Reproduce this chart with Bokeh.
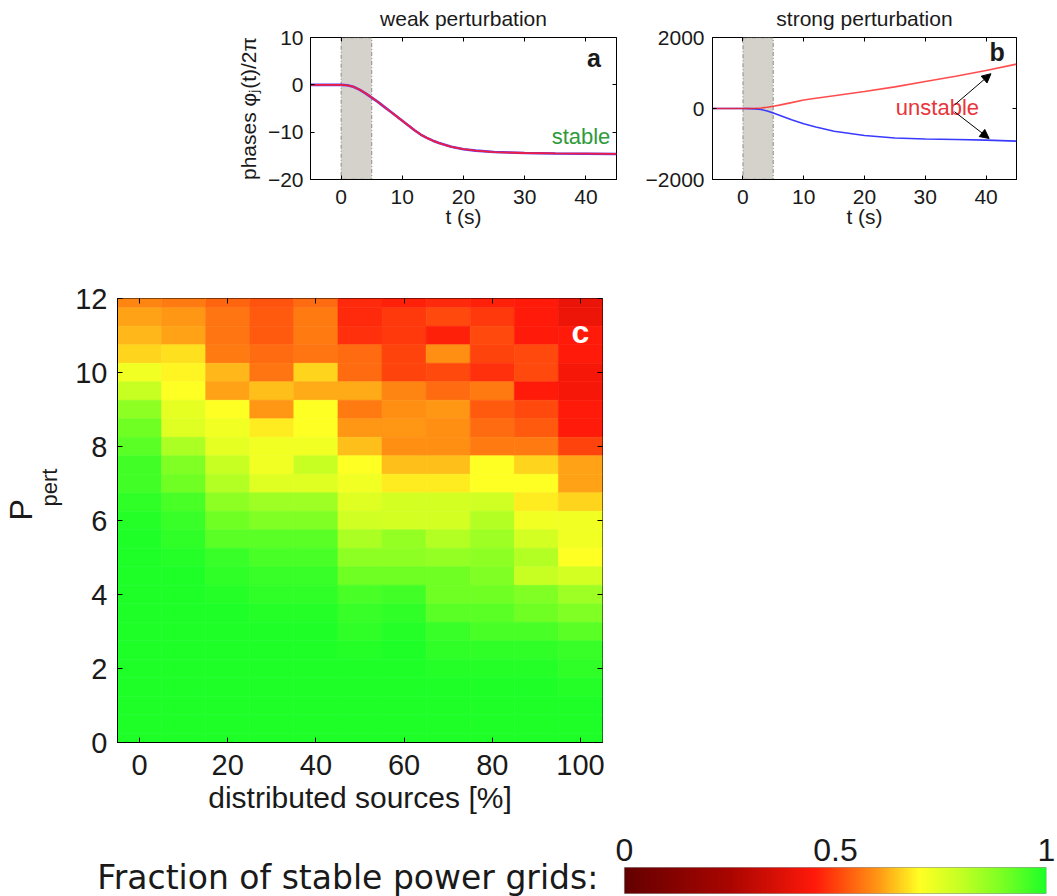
import numpy as np
from bokeh.plotting import figure
from bokeh.models import (BoxAnnotation, Label, Arrow, NormalHead, LinearAxis,
                          ColumnDataSource, LinearColorMapper, Title)
from bokeh.layouts import column, row
from bokeh.transform import linear_cmap
from bokeh.embed import file_html
from bokeh.resources import INLINE

FONT = "Liberation Sans"
INK = "#1a1a1a"

# ---------------- data: panel a (weak perturbation) ----------------
t_weak = [-5, 0, 1, 2, 3, 4, 5, 6, 7, 8, 9, 10, 11, 12, 13, 14, 15, 16, 18, 20,
          22, 25, 30, 35, 40, 45]
phase_weak = [0, 0, -0.1, -0.4, -1.0, -1.8, -2.7, -3.6, -4.6, -5.6, -6.6, -7.6,
              -8.6, -9.6, -10.5, -11.2, -11.8, -12.3, -13.1, -13.6, -13.9, -14.2,
              -14.4, -14.5, -14.55, -14.6]

# ---------------- data: panel b (strong perturbation) ----------------
t_strong = [-5, 0, 1, 2, 3, 4, 5, 6, 8, 10, 12, 15, 20, 25, 30, 35, 40, 45]
phase_strong_up = [0, 0, 2, 6, 15, 35, 65, 95, 165, 240, 290, 360, 480, 610, 760,
                   910, 1070, 1250]
phase_strong_down = [0, 0, -3, -10, -30, -70, -130, -190, -320, -430, -520, -640,
                     -760, -830, -860, -875, -890, -920]

pert_start, pert_end = 0, 5

# ---------------- data: panel c (fraction of stable grids) ----------------
sources = [0, 10, 20, 30, 40, 50, 60, 70, 80, 90, 100]
p_pert = [12.0, 11.5, 11.0, 10.5, 10.0, 9.5, 9.0, 8.5, 8.0, 7.5, 7.0, 6.5, 6.0,
          5.5, 5.0, 4.5, 4.0, 3.5, 3.0, 2.5, 2.0, 1.5, 1.0, 0.5, 0.0]
stable_0 = [0.58, 0.61, 0.63, 0.66, 0.72, 0.79, 0.87, 0.91, 0.93, 0.96, 0.96, 0.98,
            0.99, 1, 1, 1, 1, 1, 1, 1, 1, 1, 1, 1, 1]
stable_10 = [0.57, 0.60, 0.61, 0.67, 0.69, 0.70, 0.74, 0.75, 0.83, 0.89, 0.91, 0.95,
             0.97, 0.98, 0.99, 1, 1, 1, 1, 1, 1, 1, 1, 1, 1]
stable_20 = [0.54, 0.56, 0.56, 0.57, 0.63, 0.61, 0.70, 0.72, 0.74, 0.79, 0.82, 0.87,
             0.91, 0.93, 0.97, 0.98, 0.99, 1, 1, 1, 1, 1, 1, 1, 1]
stable_30 = [0.52, 0.53, 0.53, 0.55, 0.56, 0.64, 0.60, 0.68, 0.72, 0.72, 0.75, 0.85,
             0.89, 0.93, 0.95, 0.97, 0.98, 0.99, 1, 1, 1, 1, 1, 1, 1]
stable_40 = [0.55, 0.57, 0.57, 0.56, 0.66, 0.62, 0.70, 0.70, 0.72, 0.79, 0.75, 0.85,
             0.89, 0.93, 0.95, 0.97, 0.98, 0.99, 1, 1, 1, 1, 1, 1, 1]
stable_50 = [0.47, 0.47, 0.48, 0.55, 0.55, 0.62, 0.57, 0.60, 0.64, 0.70, 0.72, 0.75,
             0.78, 0.83, 0.87, 0.91, 0.95, 0.97, 0.98, 0.99, 1, 1, 1, 1, 1]
stable_60 = [0.46, 0.49, 0.49, 0.50, 0.50, 0.58, 0.59, 0.60, 0.59, 0.64, 0.68, 0.77,
             0.77, 0.86, 0.87, 0.91, 0.96, 0.98, 0.99, 1, 1, 1, 1, 1, 1]
stable_70 = [0.47, 0.51, 0.46, 0.59, 0.51, 0.55, 0.60, 0.59, 0.59, 0.64, 0.68, 0.77,
             0.77, 0.82, 0.86, 0.91, 0.91, 0.93, 0.97, 0.98, 0.99, 1, 1, 1, 1]
stable_80 = [0.46, 0.49, 0.51, 0.50, 0.48, 0.57, 0.53, 0.55, 0.57, 0.70, 0.70, 0.78,
             0.82, 0.85, 0.87, 0.89, 0.91, 0.93, 0.95, 0.98, 0.99, 1, 1, 1, 1]
stable_90 = [0.45, 0.45, 0.45, 0.51, 0.51, 0.45, 0.51, 0.53, 0.57, 0.66, 0.70, 0.68,
             0.72, 0.77, 0.82, 0.79, 0.89, 0.91, 0.95, 0.98, 0.99, 1, 1, 1, 1]
stable_100 = [0.40, 0.41, 0.45, 0.45, 0.43, 0.43, 0.45, 0.45, 0.50, 0.61, 0.61, 0.66,
              0.72, 0.72, 0.70, 0.77, 0.85, 0.89, 0.93, 0.97, 0.98, 0.99, 1, 1, 1]
stable_columns = [stable_0, stable_10, stable_20, stable_30, stable_40, stable_50,
                  stable_60, stable_70, stable_80, stable_90, stable_100]

colorbar_ticks = [0, 0.5, 1]

# ---------------- colour map (dark red -> red -> yellow -> green) ----------------
stops = [0.0, 0.25, 0.45, 0.50, 0.60, 0.70, 0.80, 0.90, 1.0]
stop_rgb = [(100, 0, 0), (170, 5, 0), (255, 25, 10), (255, 65, 12), (255, 150, 20),
            (255, 255, 35), (195, 255, 35), (120, 255, 35), (30, 255, 40)]
palette = []
for v in np.linspace(0, 1, 256):
    rgb = [int(round(np.interp(v, stops, [c[k] for c in stop_rgb]))) for k in range(3)]
    palette.append("#%02x%02x%02x" % tuple(rgb))


def style(p, fs, tick_in=4):
    p.outline_line_color = "black"
    p.outline_line_width = 1
    p.xgrid.visible = False
    p.ygrid.visible = False
    p.background_fill_color = "white"
    p.border_fill_color = "white"
    for ax in p.axis:
        ax.axis_line_color = "black"
        ax.major_tick_in = tick_in
        ax.major_tick_out = 0
        ax.minor_tick_line_color = None
        ax.major_tick_line_color = "black"
        ax.major_label_text_font = FONT
        ax.major_label_text_font_size = fs
        ax.major_label_text_color = INK
        ax.axis_label_text_font = FONT
        ax.axis_label_text_font_size = fs
        ax.axis_label_text_font_style = "normal"
        ax.axis_label_text_color = INK


def mirror_axes(p, xt, yt, tick_in=4):
    for loc, tk in (("above", xt), ("right", yt)):
        ax = LinearAxis(ticker=tk, major_label_text_font_size="1px",
                        major_label_text_color=None,
                        major_tick_in=tick_in, major_tick_out=0,
                        minor_tick_line_color=None, axis_line_color=None,
                        major_label_standoff=0)
        p.add_layout(ax, loc)


def add_title(p, text):
    p.add_layout(Title(text=text, align="center", vertical_align="top", standoff=12,
                       text_font=FONT, text_font_size="21px", text_font_style="normal",
                       text_color=INK), "above")


# ---------------- panel a ----------------
pa = figure(frame_width=306, frame_height=142, min_border_left=310, min_border_right=19,
            min_border_top=37, min_border_bottom=71, x_range=(-5, 45), y_range=(-20, 10),
            toolbar_location=None, output_backend="svg")
pa_x, pa_y = pa.below[0], pa.left[0]
pa.add_layout(BoxAnnotation(left=pert_start, right=pert_end, fill_color="#d5d2cb",
                            fill_alpha=1, line_color="black", line_dash="4 2 1 2",
                            line_width=1.3, level="underlay"))
pa.line(t_weak, phase_weak, line_color="#5a3cff", line_width=2.6)
pa.line(t_weak, phase_weak, line_color="#ff1a2a", line_width=1.8, line_alpha=0.9)
pa_x.ticker = [0, 10, 20, 30, 40]
pa_y.ticker = [-20, -10, 0, 10]
pa_y.major_label_overrides = {-20: "\u221220", -10: "\u221210"}
pa_x.axis_label = "t (s)"
pa_y.axis_label = "phases \u03c6\u2c7c(t)/2\u03c0"
style(pa, "21px")
pa_x.major_label_standoff = 10
pa_y.major_label_standoff = 7
pa_x.axis_label_standoff = -2
pa_y.axis_label_standoff = 5
mirror_axes(pa, [0, 10, 20, 30, 40], [-20, -10, 0, 10])
add_title(pa, "weak perturbation")
pa.add_layout(Label(x=39.2, y=-11, text="stable", text_align="center",
                    text_baseline="middle", text_font=FONT, text_font_size="22px",
                    text_color="#2f9a3c"))
pa.add_layout(Label(x=41.3, y=5.6, text="a", text_align="center", text_baseline="middle",
                    text_font=FONT, text_font_size="25px", text_font_style="bold",
                    text_color=INK))

# ---------------- panel b ----------------
pb = figure(frame_width=304, frame_height=142, min_border_left=77, min_border_right=33,
            min_border_top=37, min_border_bottom=71, x_range=(-5, 45),
            y_range=(-2000, 2000), toolbar_location=None, output_backend="svg")
pb_x, pb_y = pb.below[0], pb.left[0]
pb.add_layout(BoxAnnotation(left=pert_start, right=pert_end, fill_color="#d5d2cb",
                            fill_alpha=1, line_color="black", line_dash="4 2 1 2",
                            line_width=1.3, level="underlay"))
pb.line(t_strong, phase_strong_down, line_color="#3a3aff", line_width=1.6)
pb.line(t_strong, phase_strong_up, line_color="#ff2020", line_width=1.6, line_alpha=0.8)
pb_x.ticker = [0, 10, 20, 30, 40]
pb_y.ticker = [-2000, 0, 2000]
pb_y.major_label_overrides = {-2000: "\u22122000"}
pb_x.axis_label = "t (s)"
style(pb, "21px")
pb_x.major_label_standoff = 10
pb_y.major_label_standoff = 8
pb_x.axis_label_standoff = -2
mirror_axes(pb, [0, 10, 20, 30, 40], [-2000, 0, 2000])
add_title(pb, "strong perturbation")
pb.add_layout(Label(x=32, y=40, text="unstable", text_align="center",
                    text_baseline="middle", text_font=FONT, text_font_size="22px",
                    text_color="#e8343a"))
pb.add_layout(Arrow(end=NormalHead(size=9, fill_color="black", line_color="black"),
                    x_start=34.8, y_start=100, x_end=40.8, y_end=980,
                    line_color="black", line_width=1))
pb.add_layout(Arrow(end=NormalHead(size=9, fill_color="black", line_color="black"),
                    x_start=34.8, y_start=-90, x_end=40.5, y_end=-845,
                    line_color="black", line_width=1))
pb.add_layout(Label(x=41.8, y=1600, text="b", text_align="center", text_baseline="middle",
                    text_font=FONT, text_font_size="25px", text_font_style="bold",
                    text_color=INK))

# ---------------- panel c ----------------
xs, ys, vals = [], [], []
for src, col in zip(sources, stable_columns):
    for pp, v in zip(p_pert, col):
        xs.append(src)
        ys.append(pp)
        vals.append(v)
heat = ColumnDataSource(dict(x=xs, y=ys, frac=vals))

pc = figure(frame_width=485, frame_height=444, min_border_left=117, min_border_right=10,
            min_border_top=48, min_border_bottom=73, x_range=(-5, 105), y_range=(0, 12),
            toolbar_location=None, output_backend="svg")
pc_x, pc_y = pc.below[0], pc.left[0]
cmap = linear_cmap("frac", palette, 0, 1)
pc.rect(x="x", y="y", width=10, height=0.5, source=heat, fill_color=cmap,
        line_color=cmap, line_width=0.6)
pc_x.ticker = [0, 20, 40, 60, 80, 100]
pc_y.ticker = [0, 2, 4, 6, 8, 10, 12]
pc_x.axis_label = "distributed sources [%]"
style(pc, "29px", tick_in=5)
pc_x.major_label_standoff = 12
pc_y.major_label_standoff = 10
pc_x.axis_label_standoff = 3
pc_x.axis_label_text_font_size = "30px"
mirror_axes(pc, [0, 20, 40, 60, 80, 100], [0, 2, 4, 6, 8, 10, 12], tick_in=5)
pc.add_layout(Title(text="pert", align="left", offset=236, standoff=22,
                    text_font=FONT, text_font_size="22px", text_font_style="normal",
                    text_color=INK), "left")
pc.add_layout(Title(text="P", align="left", offset=222, standoff=-30,
                    text_font=FONT, text_font_size="32px", text_font_style="normal",
                    text_color=INK), "left")
pc.add_layout(Label(x=100, y=11.1, text="c", text_align="center", text_baseline="middle",
                    text_font=FONT, text_font_size="32px", text_font_style="bold",
                    text_color="white"))

# ---------------- colour bar ----------------
pcb = figure(frame_width=1046, frame_height=39, min_border_left=0, min_border_right=10,
             min_border_top=42, min_border_bottom=0, x_range=(-624 / 422, 1),
             y_range=(-4 / 26, 1 + 9 / 26), x_axis_location="above",
             y_axis_location=None, toolbar_location=None, output_backend="svg")
mapper = LinearColorMapper(palette=palette, low=0, high=1)
pcb.image(image=[np.linspace(0, 1, 256).reshape(1, 256)], x=0, y=0, dw=1, dh=1,
          color_mapper=mapper)
cb_ax = pcb.above[0]
cb_ax.ticker = colorbar_ticks
style(pcb, "32px", tick_in=0)
pcb.outline_line_color = None
cb_ax.axis_line_color = None
cb_ax.major_tick_line_color = None
cb_ax.major_label_standoff = -2
pcb.add_layout(BoxAnnotation(left=0, right=1, bottom=0, top=1, fill_alpha=0,
                             line_color="#222222", line_width=1.2))
pcb.add_layout(Label(x=-0.062, y=0.62, text="Fraction of stable power grids:",
                     text_align="right", text_baseline="middle",
                     text_font="DejaVu Sans", text_font_size="33px", text_color=INK))

layout = column(row(pa, pb), row(pc), row(pcb))
open("out.html", "w").write(file_html(layout, INLINE))
